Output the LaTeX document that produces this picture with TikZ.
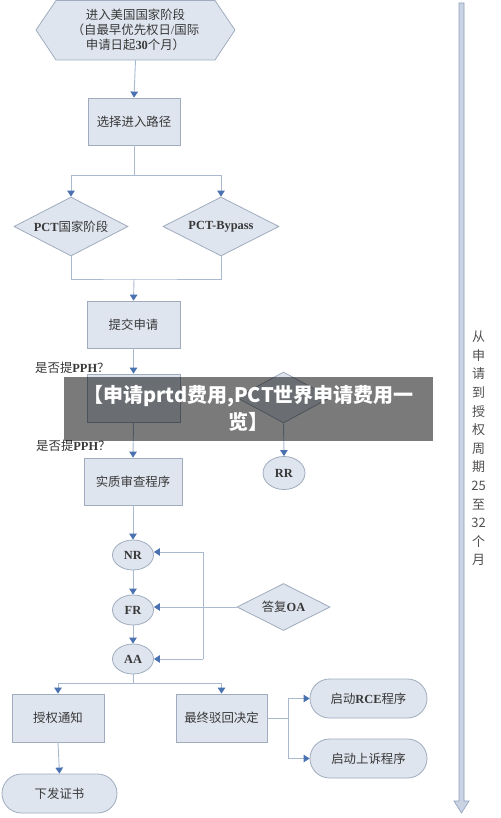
\documentclass[tikz,border=0pt]{standalone}
\usepackage{fontspec}
\setmainfont{Liberation Serif}
\newfontfamily\cjk{Noto Sans CJK SC}
\newcommand\zh[1]{{\cjk #1}}
\usetikzlibrary{shapes.geometric,shapes.misc,arrows.meta}
\definecolor{boxf}{HTML}{DFE5EF}
\definecolor{boxd}{HTML}{A0ACBE}
\definecolor{linec}{HTML}{A9B9D0}
\definecolor{arrowc}{HTML}{4A72B0}
\definecolor{txt}{HTML}{383838}
\definecolor{vtc}{HTML}{505050}
\definecolor{bigf}{HTML}{C9D3E4}
\definecolor{bigd}{HTML}{8FA0BC}
\tikzset{
  every node/.style={text=txt},
  basefont/.style={font=\fontsize{12.4}{15}\selectfont},
  boxn/.style={rectangle, draw=boxd, fill=boxf, line width=0.8pt, inner sep=0pt, basefont},
  dia/.style={diamond, draw=boxd, fill=boxf, line width=0.8pt, inner sep=0pt, basefont},
  ell/.style={ellipse, draw=boxd, fill=boxf, line width=0.8pt, inner sep=0pt, minimum width=41pt, minimum height=30pt, basefont},
  stad/.style={rounded rectangle, draw=boxd, fill=boxf, line width=0.8pt, inner sep=0pt, basefont},
  conn/.style={draw=linec, line width=0.9pt},
  arr/.style={conn, -{Triangle[length=6pt,width=7.5pt,color=arrowc]}},
  lbl/.style={basefont, anchor=west, inner sep=0pt}
}
\begin{document}
\begin{tikzpicture}[x=1pt,y=-1pt]
\useasboundingbox (0,0) rectangle (500,818);
\fill[white] (0,0) rectangle (500,818);

% hexagon
\filldraw[draw=boxd, fill=boxf, line width=0.8pt] (36,30) -- (56,0.6) -- (215,0.6) -- (235,30) -- (215,60) -- (56,60) -- cycle;
\node[basefont, align=center, inner sep=0pt, minimum width=199pt, minimum height=60pt] (hex) at (135.5,30)
  {\zh{进入美国国家阶段}\\\zh{（自最早优先权日}/\zh{国际}\\\zh{申请日起}\textbf{30}\zh{个月）}};

% boxes
\node[boxn, minimum width=92pt, minimum height=47pt] (b1) at (134,121.5) {\zh{选择进入路径}};
\node[dia, minimum width=114pt, minimum height=59pt] (d1) at (71,226.5) {\makebox[0pt]{\textbf{PCT}\zh{国家阶段}}};
\node[dia, minimum width=116pt, minimum height=59pt] (d2) at (221,226.5) {\makebox[0pt]{\textbf{PCT-Bypass}}};
\node[boxn, minimum width=93pt, minimum height=47pt] (b2) at (133.5,324.5) {\zh{提交申请}};
\node[boxn, minimum width=93pt, minimum height=48pt] (b3) at (133.5,398) {};
\node[dia, minimum width=94pt, minimum height=51pt] (d3) at (283.5,397.5) {};
\node[ell, minimum width=42pt, minimum height=33pt] (rr) at (284,473) {\makebox[0pt]{\textbf{RR}}};
\node[boxn, minimum width=98pt, minimum height=47pt] (b4) at (133,481.5) {\zh{实质审查程序}};
\node[ell] (nr) at (133,555) {\makebox[0pt]{\textbf{NR}}};
\node[ell] (fr) at (133,610) {\makebox[0pt]{\textbf{FR}}};
\node[ell] (aa) at (133,659) {\makebox[0pt]{\textbf{AA}}};
\node[dia, minimum width=93pt, minimum height=47pt] (oa) at (283.5,607) {\makebox[0pt]{\zh{答复}\textbf{OA}}};
\node[boxn, minimum width=92pt, minimum height=48pt] (b5) at (58,718) {\zh{授权通知}};
\node[boxn, minimum width=91pt, minimum height=48pt] (b6) at (221.5,718) {\zh{最终驳回决定}};
\node[stad, minimum width=115pt, minimum height=39pt] (cert) at (59.5,793.5) {\zh{下发证书}};
\node[stad, minimum width=117pt, minimum height=39pt] (rce) at (368.5,698.5) {\zh{启动}\textbf{RCE}\zh{程序}};
\node[stad, minimum width=117pt, minimum height=39pt] (app) at (368.5,758.5) {\zh{启动上诉程序}};

% labels
\node[lbl] (q1) at (35,368) {\zh{是否提}\textbf{PPH}\zh{？}};
\node[lbl] (q2) at (36,446) {\zh{是否提}\textbf{PPH}\zh{？}};

% connectors
\coordinate (s1) at (134,175);
\coordinate (s2) at (134,279);
\coordinate (s3) at (133,683);
\coordinate (s4) at (288,718);
\coordinate (fbt) at (203,552);
\coordinate (fbb) at (203,659);
\draw[arr] (hex.south) -- (b1.north);
\draw[conn] (b1.south) -- (s1);
\draw[arr] (s1) -| (d1.north);
\draw[arr] (s1) -| (d2.north);
\draw[conn] (d1.south) |- (s2) -| (d2.south);
\draw[arr] (s2) -- (b2.north);
\draw[arr] (b2.south) -- (b3.north);
\draw[arr] (b3.south) -- (b4.north);
\draw[arr] (d3.south) -- (rr.north);
\draw[arr] (b4.south) -- (nr.north);
\draw[arr] (nr.south) -- (fr.north);
\draw[arr] (fr.south) -- (aa.north);
\draw[arr] (oa.west) -- (fr.east |- oa.west);
\draw[conn] (fbt) -- (fbb);
\draw[arr] (fbt) -- (nr.east |- fbt);
\draw[arr] (fbb) -- (aa.east);
\draw[conn] (aa.south) -- (s3);
\draw[arr] (s3) -| (b5.north);
\draw[arr] (s3) -| (b6.north);
\draw[arr] (b5.south) -- (cert.north);
\draw[conn] (b6.east) -- (s4);
\draw[arr] (s4) |- (rce.west);
\draw[arr] (s4) |- (app.west);

% big timeline arrow
\filldraw[fill=bigf, draw=bigd, line width=0.6pt] (459,3) -- (464,3) -- (464,801) -- (469,801) -- (461.5,813) -- (454,801) -- (459,801) -- cycle;
\node[font=\cjk\fontsize{13}{18.6}\selectfont, text=vtc, align=center, inner sep=0pt] (vt) at (478.5,448.5)
  {从\\申\\请\\到\\授\\权\\周\\期\\25\\至\\32\\个\\月};

% banner overlay
\fill[black, opacity=0.52] (64,377) rectangle (433,441);
\node[font=\cjk\bfseries\fontsize{20}{27}\selectfont, text=white, align=center, inner sep=0pt] (ban) at (248.5,408)
  {【申请prtd费用,PCT世界申请费用一\\览】};
\end{tikzpicture}
\end{document}
